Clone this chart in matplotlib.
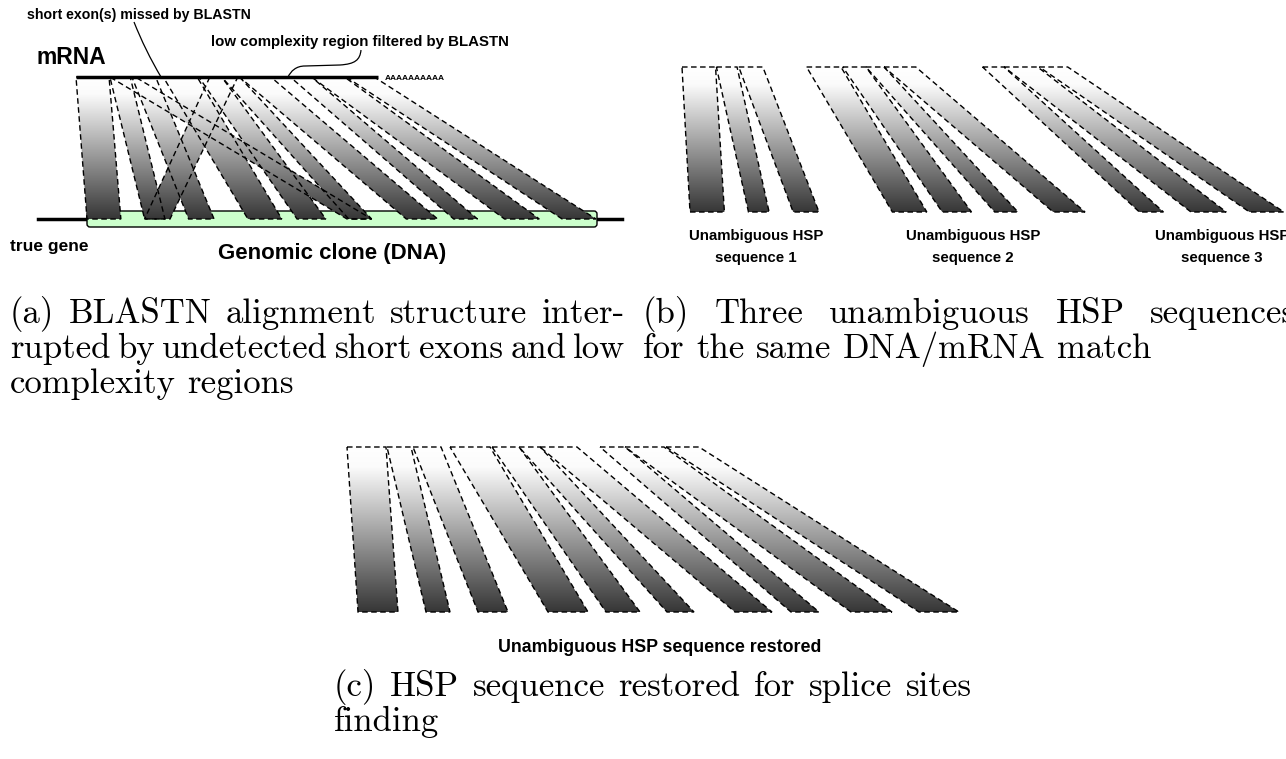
import numpy as np
import matplotlib
matplotlib.use('Agg')
import matplotlib.pyplot as plt
from matplotlib.path import Path
from matplotlib.patches import PathPatch, FancyBboxPatch, Polygon
from matplotlib.colors import LinearSegmentedColormap

# HSPs of the restored sequence: mRNA interval -> DNA interval (sequence units)
mrna_start = [0, 40, 66, 103, 145, 172, 193, 253, 278, 319]
mrna_end = [39, 64, 94, 143, 172, 193, 230, 278, 317, 352]
dna_start = [0, 68, 120, 190, 248, 309, 377, 433, 493, 561]
dna_end = [40, 92, 150, 230, 282, 336, 414, 461, 534, 601]
hsp_group = [0, 0, 0, 1, 1, 1, 1, 2, 2, 2]

# spurious HSPs reported by BLASTN in panel (a)
bad_mrna_start = [158, 40]
bad_mrna_end = [191, 70]
bad_dna_start = [68, 307]
bad_dna_end = [98, 336]

group_labels = ['Unambiguous HSP\nsequence 1', 'Unambiguous HSP\nsequence 2',
                'Unambiguous HSP\nsequence 3']

cap_a = ['(a) BLASTN alignment structure inter-',
         'rupted by undetected short exons and low',
         'complexity regions']
cap_b = ['(b) Three unambiguous HSP sequences',
         'for the same DNA/mRNA match']
cap_c = ['(c) HSP sequence restored for splice sites',
         'finding']

fig = plt.figure(figsize=(12.86, 7.59), dpi=100)
ax = fig.add_axes([0, 0, 1, 1])
ax.set_autoscale_on(False)
ax.set_xlim(0, 1286)
ax.set_ylim(759, 0)
ax.axis('off')

grad = LinearSegmentedColormap.from_list('hsp', [(0, '#ffffff'), (0.12, '#fbfbfb'), (1, '#363636')])
col = np.linspace(0, 1, 256).reshape(-1, 1)


def band(xt0, xt1, xb0, xb1, yt, yb):
    verts = [(xt0, yt), (xt1, yt), (xb1, yb), (xb0, yb)]
    im = ax.imshow(col, cmap=grad, extent=(min(xt0, xb0) - 1, max(xt1, xb1) + 1, yb, yt),
                   aspect='auto', origin='upper', zorder=2, interpolation='bilinear')
    im.set_clip_path(Polygon(verts, closed=True, transform=ax.transData))
    ax.add_patch(Polygon(verts, closed=True, facecolor='none', edgecolor='black',
                         lw=1.0, linestyle=(0, (4, 2.5)), zorder=3))


helv = 'Liberation Sans'

# ---- panel (a)
ya_top, ya_bot = 77, 219
ax.plot([38, 622], [219, 219], color='black', lw=2.5, zorder=1)
ax.add_patch(FancyBboxPatch((87, 211), 510, 16, boxstyle='round,pad=0,rounding_size=3',
                            fc='#ccffcc', ec='black', lw=1, zorder=1.5))
for i in range(len(mrna_start)):
    band(76 + 0.847 * mrna_start[i], 76 + 0.847 * mrna_end[i],
         87 + 0.847 * dna_start[i], 87 + 0.847 * dna_end[i], ya_top, ya_bot)
for i in range(len(bad_mrna_start)):
    band(76 + 0.847 * bad_mrna_start[i], 76 + 0.847 * bad_mrna_end[i],
         87 + 0.847 * bad_dna_start[i], 87 + 0.847 * bad_dna_end[i], ya_top, ya_bot)
ax.plot([76, 378], [ya_top, ya_top], color='black', lw=2.5, solid_capstyle='butt', zorder=4)

ax.text(27, 15, 'short exon(s) missed by BLASTN', fontsize=10.2, fontweight='bold',
        family=helv, va='center')
ax.text(211, 42, 'low complexity region filtered by BLASTN', fontsize=10.8, fontweight='bold',
        family=helv, va='center')
ax.text(36, 57, 'mRNA', fontsize=16.5, fontweight='bold', family=helv, va='center')
ax.text(385, 78, 'AAAAAAAAAA', fontsize=6, fontweight='bold', family=helv, va='center')
ax.text(10, 246, 'true gene', fontsize=12.5, fontweight='bold', family=helv, va='center')
ax.text(332, 253, 'Genomic clone (DNA)', fontsize=16, fontweight='bold', family=helv,
        va='center', ha='center')

# pointers
p1 = Path([(134, 22), (145, 50), (161, 77)], [Path.MOVETO, Path.CURVE3, Path.CURVE3])
p2 = Path([(361, 50), (360, 60), (355, 64), (340, 65), (305, 66), (296, 66), (291, 71), (288, 77)],
          [Path.MOVETO, Path.CURVE4, Path.CURVE4, Path.CURVE4, Path.LINETO,
           Path.CURVE4, Path.CURVE4, Path.CURVE4])
for p in (p1, p2):
    ax.add_patch(PathPatch(p, fc='none', ec='black', lw=0.9, zorder=5))

# ---- panel (b)
yb_top, yb_bot = 67, 212
top_shift = [0, 36, 83]
bot_shift = [0, 39, 77]
for i in range(len(mrna_start)):
    g = hsp_group[i]
    band(682 + 0.86 * mrna_start[i] + top_shift[g], 682 + 0.86 * mrna_end[i] + top_shift[g],
         690 + 0.86 * dna_start[i] + bot_shift[g], 690 + 0.86 * dna_end[i] + bot_shift[g],
         yb_top, yb_bot)
for x, lab in zip([756, 973, 1222], group_labels):
    ax.text(x, 247, lab, fontsize=10.8, fontweight='bold', family=helv, ha='center',
            va='center', multialignment='center', linespacing=1.65)

# ---- panel (c)
yc_top, yc_bot = 447, 612
for i in range(len(mrna_start)):
    band(347 + mrna_start[i], 347 + mrna_end[i], 358 + dna_start[i], 358 + dna_end[i],
         yc_top, yc_bot)
ax.text(660, 648, 'Unambiguous HSP sequence restored', fontsize=12.8, fontweight='bold',
        family=helv, ha='center', va='center')

# ---- captions (justified like LaTeX)
renderer = fig.canvas.get_renderer()


def caption(lines, x0, x1, y0, dy, fs=25):
    for k, line in enumerate(lines):
        y = y0 + k * dy
        words = line.split(' ')
        texts = [ax.text(0, y, w, fontsize=fs, family='cmr10', va='baseline') for w in words]
        widths = [t.get_window_extent(renderer).width for t in texts]
        last = k == len(lines) - 1
        if last or len(words) == 1:
            gap = fs * 100 / 72 * 0.333
        else:
            gap = max((x1 - x0 - sum(widths)) / (len(words) - 1), 7)
        x = x0
        for t, w in zip(texts, widths):
            t.set_x(x)
            x += w + gap


caption(cap_a, 10, 625, 323, 35)
caption(cap_b, 643, 1296, 323, 35)
caption(cap_c, 334, 972, 696, 35)

fig.savefig('out.png', dpi=100)
